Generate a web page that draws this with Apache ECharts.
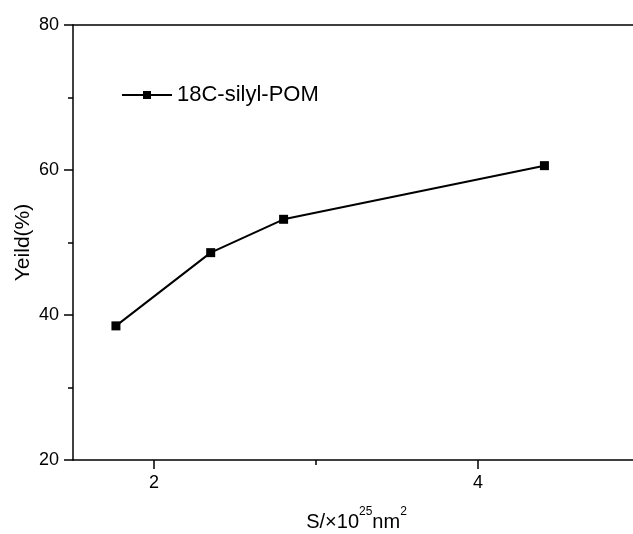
<!DOCTYPE html>
<html>
<head>
<meta charset="utf-8">
<script src="https://cdn.jsdelivr.net/npm/echarts@6/dist/echarts.min.js"></script>
<style>
  html, body { margin: 0; padding: 0; background: #fff; overflow: hidden; }
  #chart { width: 633px; height: 534px; }
</style>
</head>
<body>
<div id="chart"></div>
<script>
  // data
  var seriesName = "18C-silyl-POM";
  var xValues = [1.765, 2.35, 2.80, 4.41];
  var yValues = [38.5, 48.6, 53.2, 60.6];
  var xLabelTicks = [2, 4];
  var xMinorTicks = [3];
  var yTicks = [20, 40, 60, 80];

  var font = "Liberation Sans, Arial, sans-serif";
  var chart = echarts.init(document.getElementById("chart"));

  var pts = xValues.map(function (x, i) { return [x, yValues[i]]; });
  var axisLine = { show: true, lineStyle: { color: "#000", width: 1.5 } };

  chart.setOption({
    animation: false,
    textStyle: { fontFamily: font, color: "#000" },
    grid: {
      left: 73, top: 25, bottom: 74, right: -7,
      outerBoundsMode: "none", containLabel: false
    },
    legend: {
      left: 121, top: 84, padding: 0,
      itemWidth: 50, itemHeight: 10, itemGap: 5,
      textStyle: { fontSize: 22, color: "#000", fontFamily: font },
      data: [seriesName]
    },
    xAxis: [{
      type: "value", min: 1.5, max: 5,
      axisLine: axisLine,
      axisTick: { show: true, length: 9, customValues: xLabelTicks, lineStyle: { color: "#000", width: 1.5 } },
      axisLabel: { customValues: xLabelTicks, fontSize: 18, color: "#000", margin: 14, fontFamily: font },
      splitLine: { show: false },
      name: "{a|S/×10}{s|25}{a|nm}{s|2}",
      nameLocation: "middle", nameGap: 46, nameMoveOverlap: false,
      nameTextStyle: {
        rich: {
          a: { fontSize: 20, fontFamily: font, color: "#000", lineHeight: 26, verticalAlign: "bottom" },
          s: { fontSize: 12, fontFamily: font, color: "#000", lineHeight: 26, verticalAlign: "top", padding: [0, 0, 6, 0] }
        }
      }
    }, {
      type: "value", min: 1.5, max: 5, position: "bottom",
      axisLine: { show: false },
      axisTick: { show: true, length: 5, customValues: xMinorTicks, lineStyle: { color: "#000", width: 1.5 } },
      axisLabel: { show: false },
      splitLine: { show: false }
    }, {
      type: "value", min: 1.5, max: 5, position: "top",
      axisLine: axisLine,
      axisTick: { show: false },
      axisLabel: { show: false },
      splitLine: { show: false }
    }],
    yAxis: {
      type: "value", min: yTicks[0], max: yTicks[yTicks.length - 1], interval: 20,
      axisLine: axisLine,
      axisTick: { show: true, length: 9, lineStyle: { color: "#000", width: 1.5 } },
      minorTick: { show: true, splitNumber: 2, length: 5, lineStyle: { color: "#000", width: 1.5 } },
      axisLabel: { fontSize: 18, color: "#000", margin: 14, fontFamily: font },
      splitLine: { show: false },
      name: "Yeild(%)",
      nameLocation: "middle", nameGap: 39, nameMoveOverlap: false,
      nameTextStyle: { fontSize: 21, color: "#000", fontFamily: font }
    },
    series: [{
      name: seriesName,
      type: "line",
      data: pts,
      symbol: "rect",
      symbolSize: 9,
      lineStyle: { color: "#000", width: 2 },
      itemStyle: { color: "#000" }
    }]
  });
</script>
</body>
</html>
